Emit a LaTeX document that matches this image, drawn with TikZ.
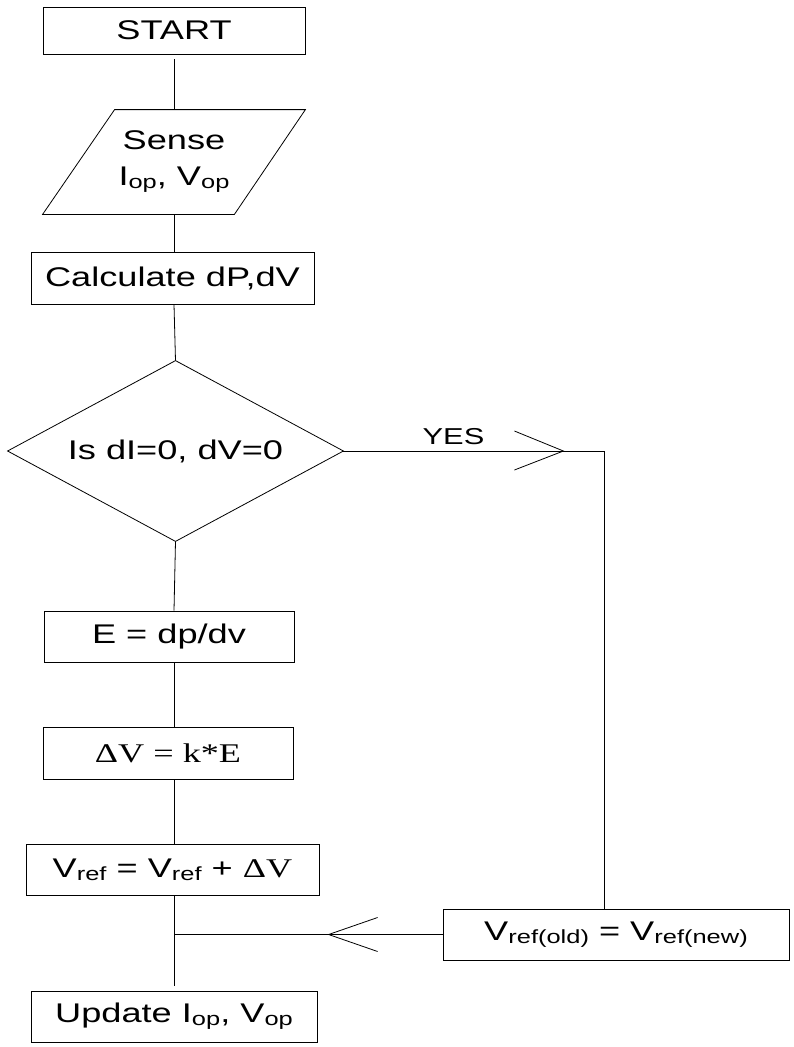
\documentclass[tikz,border=0pt]{standalone}
\usepackage{fontspec}
\setmainfont{Liberation Sans}[FakeStretch=1.34]
\newfontfamily\serifw{Liberation Serif}[FakeStretch=1.34]
\usetikzlibrary{calc}
\newcommand{\sbs}[1]{\raisebox{-3pt}{\fontsize{19}{19}\selectfont #1}}
\begin{document}
\begin{tikzpicture}[x=1pt,y=-1pt,line width=0.8pt,
  box/.style={draw,rectangle,inner sep=0pt,align=center,font=\fontsize{27}{36}\selectfont},
  ghost/.style={rectangle,inner sep=0pt,align=center,font=\fontsize{27}{36}\selectfont},
  lbl/.style={inner sep=0pt,font=\fontsize{23}{23}\selectfont}]
\useasboundingbox (0,0) rectangle (793,1047);
\node[box,minimum width=262pt,minimum height=47pt] (start) at (174,30.5) {START};
\node[ghost,minimum width=262pt,minimum height=104pt] (sense) at (174,162) {Sense\\I\sbs{op}, V\sbs{op}};
\draw ($(sense.north west)+(72,0)$) -- (sense.north east) -- ($(sense.south east)+(-71,0)$) -- (sense.south west) -- cycle;
\node[box,minimum width=283pt,minimum height=52pt] (calc) at (172.5,278) {Calculate dP,dV};
\node[ghost,minimum width=335pt,minimum height=180pt] (dec) at (175.5,451) {Is dI=0, dV=0};
\draw (dec.north) -- (dec.east) -- (dec.south) -- (dec.west) -- cycle;
\node[box,minimum width=250pt,minimum height=51pt] (e) at (169,636.5) {E = dp/dv};
\node[box,minimum width=250pt,minimum height=52pt] (dv) at (168,753) {\serifw ΔV = k*E};
\node[box,minimum width=293pt,minimum height=51pt] (vref) at (172.5,869.5) {V\sbs{ref} = V\sbs{ref} + {\serifw ΔV}};
\node[box,minimum width=286pt,minimum height=51pt] (update) at (174,1016.5) {Update I\sbs{op}, V\sbs{op}};
\node[box,minimum width=346pt,minimum height=51pt] (vold) at (616,934.5) {V\sbs{ref(old)} = V\sbs{ref(new)}};
\node[lbl] (yes) at (453.5,436.5) {YES};
% spine connectors
\draw[shorten <=5pt] (start.south) -- (sense.north);
\draw (sense.south) -- (calc.north -| sense.south);
\draw (calc.south -| sense.south) -- (dec.north);
\draw (dec.south) -- (e.north -| start.south);
\draw (e.south -| start.south) -- (dv.north -| start.south);
\draw (dv.south -| start.south) -- (vref.north -| start.south);
\coordinate (j) at (start.south |- vold.west);
\draw (vref.south -| start.south) -- (j);
\draw[shorten >=5pt] (j) -- (update.north -| start.south);
% YES branch
\coordinate (ytip) at ($(dec.east)+(220,0)$);
\coordinate (corner) at ($(dec.east)+(261,0)$);
\draw (dec.east) -- (corner) -- (corner |- vold.north);
\draw ($(ytip)+(-49,-20)$) -- (ytip) -- ($(ytip)+(-49,19)$);
% return
\coordinate (ltip) at ($(vold.west)+(-114,0)$);
\draw (vold.west) -- (j);
\draw ($(ltip)+(49,-17)$) -- (ltip) -- ($(ltip)+(49,17)$);
\end{tikzpicture}
\end{document}
